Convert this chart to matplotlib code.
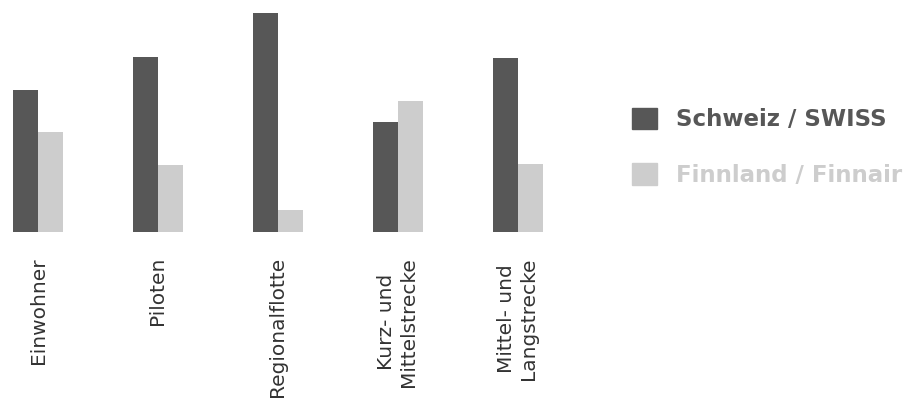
import numpy as np
import matplotlib.pyplot as plt
from matplotlib.patches import Patch

categories = ['Einwohner', 'Piloten', 'Regionalflotte',
              'Kurz- und\nMittelstrecke', 'Mittel- und\nLangstrecke']
schweiz = [142, 175, 219, 110, 174]
finnland = [100, 67, 22, 131, 68]
series_labels = ['Schweiz / SWISS', 'Finnland / Finnair']

dark = '#575757'
light = '#cdcdcd'

fig = plt.figure(figsize=(9.15, 4.03), dpi=100)
ax = fig.add_axes([0.0, 0.4243, 0.6557, 0.5434])

x = np.arange(len(categories))
w = 0.2083
ax.bar(x - w / 2, schweiz, w, color=dark)
ax.bar(x + w / 2, finnland, w, color=light)

ax.set_xlim(-0.3167, 4.6833)
ax.set_ylim(0, 219)
ax.set_xticks(x)
ax.set_xticklabels(categories, rotation=90, fontsize=14.5, color='#333333',
                   va='top', ha='center', multialignment='center')
ax.tick_params(axis='x', length=0, pad=18)
ax.set_yticks([])
for s in ax.spines.values():
    s.set_visible(False)

handles = [Patch(color=dark), Patch(color=light)]
leg = fig.legend(handles, series_labels, loc='upper left',
                 bbox_to_anchor=(0.6907, 0.733), frameon=False,
                 prop={'weight': 'bold', 'size': 16.5},
                 handlelength=1.09, handleheight=1.09,
                 handletextpad=0.85, labelspacing=1.4, borderpad=0,
                 borderaxespad=0)
for t, c in zip(leg.get_texts(), [dark, light]):
    t.set_color(c)

fig.savefig('out.png', dpi=100)
